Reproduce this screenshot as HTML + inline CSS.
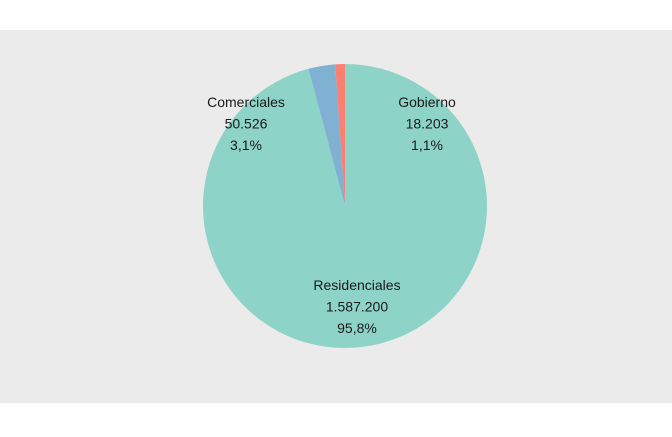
<!DOCTYPE html>
<html><head><meta charset="utf-8"><style>
body{margin:0;background:#fff;font-family:"Liberation Sans",Arial,sans-serif;}
svg text{font-family:"Liberation Sans",Arial,sans-serif;font-size:14px;fill:#1a1a1a;}
</style></head><body>
<svg width="672" height="432">
<rect x="0" y="30" width="672" height="373" fill="#ebebeb"/>
<g id="slices"></g>
<g id="labels"></g>
</svg>
<script>
const categories=["Gobierno","Comerciales","Residenciales"];
const values=[18203,50526,1587200];
const valueLabels=["18.203","50.526","1.587.200"];
const pctLabels=["1,1%","3,1%","95,8%"];
const colors=["#fa8072","#80b1d3","#8dd3c7"];
const labelPos=[[427,102],[246,102],[357,285]];
const cx=345,cy=206,r=142;
const total=values.reduce((a,b)=>a+b,0);
const ns="http://www.w3.org/2000/svg";
const gs=document.getElementById('slices'),gl=document.getElementById('labels');
let a0=0;
values.forEach((v,i)=>{
  const a1=a0+v/total*2*Math.PI;
  // counterclockwise from top
  const p=t=>[cx-r*Math.sin(t),cy-r*Math.cos(t)];
  const [x0,y0]=p(a0),[x1,y1]=p(a1);
  const large=(a1-a0)>Math.PI?1:0;
  const path=document.createElementNS(ns,'path');
  path.setAttribute('d',`M${cx},${cy}L${x0},${y0}A${r},${r} 0 ${large} 0 ${x1},${y1}Z`);
  path.setAttribute('fill',colors[i]);
  
  
  gs.appendChild(path);
  const lines=[categories[i],valueLabels[i],pctLabels[i]];
  lines.forEach((s,j)=>{
    const t=document.createElementNS(ns,'text');
    t.setAttribute('x',labelPos[i][0]);
    t.setAttribute('y',labelPos[i][1]+j*21.5+5);
    t.setAttribute('text-anchor','middle');
    t.textContent=s;
    
    
    gl.appendChild(t);
  });
  a0=a1;
});
</script>
</body></html>
